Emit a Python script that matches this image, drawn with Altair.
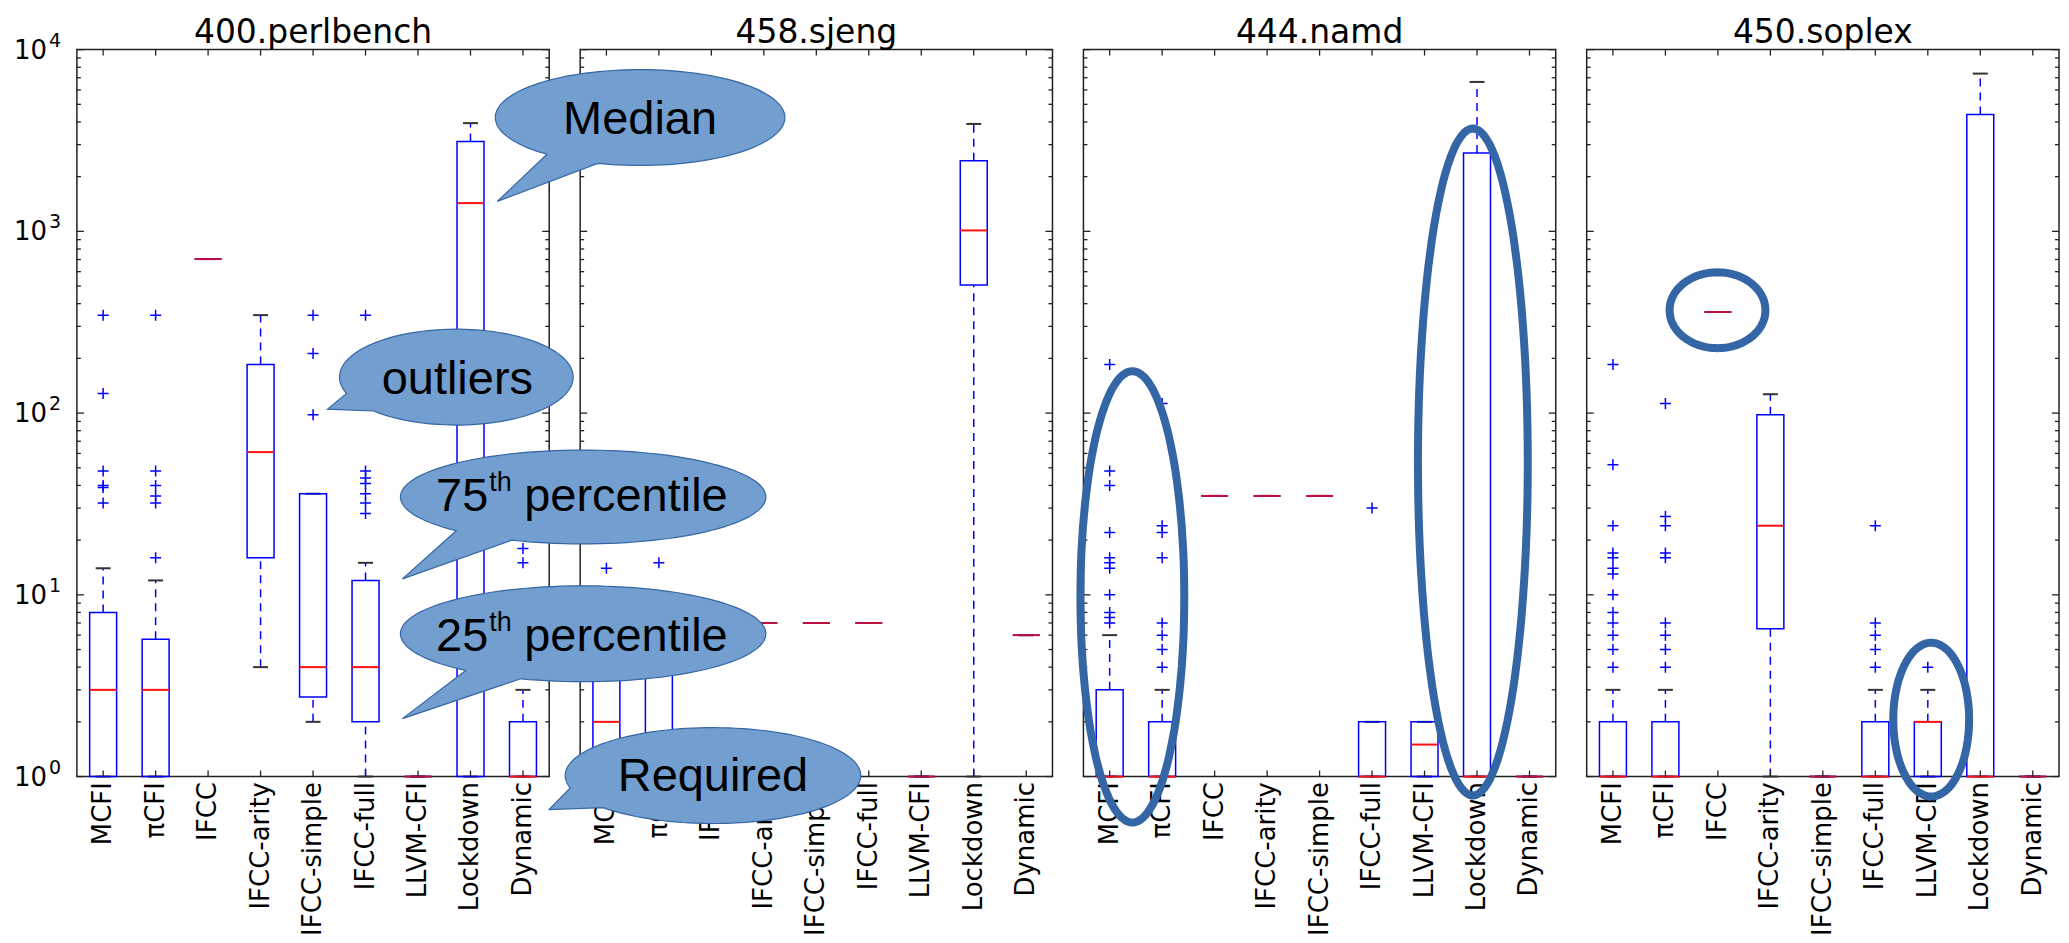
import math
import altair as alt
import pandas as pd

# ---------------- data ----------------
CATS = ["MCFI", "πCFI", "IFCC", "IFCC-arity", "IFCC-simple", "IFCC-full",
        "LLVM-CFI", "Lockdown", "Dynamic"]
BENCHES = ["400.perlbench", "458.sjeng", "444.namd", "450.soplex"]

# lower whisker, 25th pct, median, 75th pct, upper whisker (aligned with CATS)
perl_lo = [1, 1, 704, 4, 2, 1, 1, 1, 1]
perl_q1 = [1, 1, 704, 16, 2.74, 2, 1, 1, 1]
perl_med = [3, 3, 704, 61, 4, 4, 1, 1430, 1]
perl_q3 = [8, 5.7, 704, 185, 36, 12, 1, 3120, 2]
perl_hi = [14, 12, 704, 346, 36, 15, 1, 3940, 3]
perl_out = {"MCFI": [345, 128, 48, 40, 39, 32],
            "πCFI": [345, 48, 40, 35, 32, 16],
            "IFCC-simple": [345, 213, 98],
            "IFCC-full": [345, 48, 44, 41, 36, 32, 28],
            "Dynamic": [18, 15]}

sjeng_lo = [1, 1, 7, 7, 7, 7, 1, 1, 6]
sjeng_q1 = [1, 1, 7, 7, 7, 7, 1, 507, 6]
sjeng_med = [2, 1, 7, 7, 7, 7, 1, 1012, 6]
sjeng_q3 = [4, 5, 7, 7, 7, 7, 1, 2444, 6]
sjeng_hi = [7, 9, 7, 7, 7, 7, 1, 3900, 6]
sjeng_out = {"MCFI": [14], "πCFI": [15]}

namd_lo = [1, 1, 35, 35, 35, 1, 1, 1, 1]
namd_q1 = [1, 1, 35, 35, 35, 1, 1, 1, 1]
namd_med = [1, 1, 35, 35, 35, 1, 1.5, 1, 1]
namd_q3 = [3, 2, 35, 35, 35, 2, 2, 2700, 1]
namd_hi = [6, 3, 35, 35, 35, 2, 2, 6640, 1]
namd_out = {"MCFI": [185, 48, 40, 22, 16, 15, 14, 10, 8, 7.5, 7],
            "πCFI": [113, 24, 22, 16, 7, 6, 5, 4],
            "IFCC-full": [30]}

soplex_lo = [1, 1, 360, 1, 1, 1, 1, 1, 1]
soplex_q1 = [1, 1, 360, 6.5, 1, 1, 1, 1, 1]
soplex_med = [1, 1, 360, 24, 1, 1, 2, 1, 1]
soplex_q3 = [2, 2, 360, 98, 1, 2, 2, 4400, 1]
soplex_hi = [3, 3, 360, 127, 1, 3, 3, 7380, 1]
soplex_out = {"MCFI": [185, 52, 24, 17, 16, 14, 13, 10, 8, 7, 6, 5, 4],
              "πCFI": [113, 27, 24, 17, 16, 7, 6, 5, 4],
              "IFCC-full": [24, 7, 6, 5, 4],
              "LLVM-CFI": [4]}

Y_MAJOR = [1, 10, 100, 1000, 10000]
Y_EXP = ["0", "1", "2", "3", "4"]
Y_MINOR = [m * 10 ** k for k in range(4) for m in range(2, 10)]

STATS = {
    "400.perlbench": (perl_lo, perl_q1, perl_med, perl_q3, perl_hi, perl_out),
    "458.sjeng": (sjeng_lo, sjeng_q1, sjeng_med, sjeng_q3, sjeng_hi, sjeng_out),
    "444.namd": (namd_lo, namd_q1, namd_med, namd_q3, namd_hi, namd_out),
    "450.soplex": (soplex_lo, soplex_q1, soplex_med, soplex_q3, soplex_hi, soplex_out),
}

# ---------------- style ----------------
W, H = 473, 728
BLUE = "#0000ff"
CRIMSON = "#c0103c"
FRAME = "#222222"
BUB_FILL = "#729fcf"
BUB_EDGE = "#3465a4"
FONT = "DejaVu Sans"
BFONT = "Liberation Sans"

ySc = alt.Scale(type="log", domain=[1, 10000], nice=False)
xSc = alt.Scale(domain=CATS, paddingInner=0, paddingOuter=0)
XAX = alt.Axis(labelAngle=270, labelFontSize=26, labelFont=FONT, labelColor="black",
               labelPadding=5, ticks=False, domain=False, labelOverlap=False,
               labelLimit=400, labelBound=False, title=None)


def X():
    return alt.X("cat:N", scale=xSc, sort=CATS, axis=XAX)


def Y(field):
    return alt.Y(field, scale=ySc, axis=None)


def _pt(rx, ry, a):
    r = math.radians(a)
    return f"{rx * math.cos(r):.1f} {ry * math.sin(r):.1f}"


def ellipse_path(rx, ry, n=120):
    pts = [_pt(rx, ry, 360.0 * i / n) for i in range(n)]
    return "M " + " L ".join(pts) + " Z"


def bubble_path(rx, ry, tip, a1, a2, n=120):
    span = (a2 + 360.0) - a1
    pts = [_pt(rx, ry, a1 + span * i / n) for i in range(n + 1)]
    return f"M {tip[0]:.1f} {tip[1]:.1f} L " + " L ".join(pts) + " Z"


ONE = pd.DataFrame({"a": [0]})


def shape_layer(cx, cy, path, **kw):
    return alt.Chart(ONE).mark_point(shape=path, size=4, opacity=1, **kw).encode(
        x=alt.value(cx), y=alt.value(cy))


def text_layer(cx, cy, txt, size, align="center", font=BFONT):
    return alt.Chart(ONE).mark_text(text=txt, font=font, fontSize=size, color="black",
                                    align=align, baseline="alphabetic").encode(
        x=alt.value(cx), y=alt.value(cy))


def ring(cx, cy, rx, ry):
    return shape_layer(cx, cy, ellipse_path(rx, ry), filled=False,
                       stroke=BUB_EDGE, strokeWidth=8, strokeJoin="round")


def bubble(cx, cy, rx, ry, tip, a1, a2):
    return shape_layer(cx, cy, bubble_path(rx, ry, (tip[0] - cx, tip[1] - cy), a1, a2),
                       filled=True, fill=BUB_FILL, stroke=BUB_EDGE, strokeWidth=1.2)


# annotations, in panel-local pixel coordinates
def bubbles_for_sjeng():
    return [
        bubble(60, 68, 145, 48, (-83, 152), 130, 107),
        text_layer(60, 85, "Median", 47),
        bubble(-124, 328, 117, 48, (-253, 360), 160, 135),
        text_layer(-123, 345, "outliers", 47),
        bubble(3, 448, 183, 47, (-178, 530), 134, 113),
        text_layer(-92, 462, "75", 47, "right"),
        text_layer(-91, 442, "th", 27, "left"),
        text_layer(-56, 462, "percentile", 47, "left"),
        bubble(3, 585, 183, 48, (-178, 670), 130, 110),
        text_layer(-92, 602, "25", 47, "right"),
        text_layer(-91, 582, "th", 27, "left"),
        text_layer(-56, 602, "percentile", 47, "left"),
        bubble(133, 727, 148, 48, (-31, 761), 165, 138),
        text_layer(133, 742, "Required", 47),
    ]


ANNOT = {
    "400.perlbench": lambda: [],
    "458.sjeng": bubbles_for_sjeng,
    "444.namd": lambda: [ring(49, 548, 52, 226), ring(390, 413, 55, 334)],
    "450.soplex": lambda: [ring(131, 261, 48, 38), ring(345, 671, 38, 77)],
}


def panel(bench, first):
    lo, q1, med, q3, hi, outd = STATS[bench]
    st = pd.DataFrame({"cat": CATS, "lo": lo, "q1": q1, "med": med, "q3": q3, "hi": hi})
    orows = [(c, v) for c, vals in outd.items() for v in vals]
    od = pd.DataFrame(orows, columns=["cat", "v"])
    base = alt.Chart(st)

    wh = base.mark_rule(color=BLUE, strokeWidth=1.5, strokeDash=[8, 6]).encode(
        x=X(), y=Y("q3:Q"), y2="hi:Q")
    wl = base.mark_rule(color=BLUE, strokeWidth=1.5, strokeDash=[8, 6]).encode(
        x=X(), y=Y("lo:Q"), y2="q1:Q")
    ch = base.mark_tick(color="#333333", size=15, thickness=2, orient="horizontal",
                        opacity=1).encode(x=X(), y=Y("hi:Q"))
    cl = base.mark_tick(color="#333333", size=15, thickness=2, orient="horizontal",
                        opacity=1).encode(x=X(), y=Y("lo:Q"))
    box = base.mark_bar(size=27, fill="white", fillOpacity=0, stroke=BLUE,
                        strokeWidth=1.5).encode(x=X(), y=Y("q1:Q"), y2="q3:Q")
    md = base.mark_tick(size=27, thickness=2, orient="horizontal", opacity=1).encode(
        x=X(), y=Y("med:Q"),
        color=alt.condition("datum.q1 == datum.q3", alt.value(CRIMSON), alt.value("#ff1010")))
    fl = alt.Chart(od).mark_point(shape="M -1 0 L 1 0 M 0 -1 L 0 1", size=121,
                                  filled=False, stroke=BLUE, strokeWidth=1.5,
                                  opacity=1).encode(x=X(), y=Y("v:Q"))

    maj = alt.Chart(pd.DataFrame({"v": Y_MAJOR, "e": Y_EXP}))
    mnr = alt.Chart(pd.DataFrame({"v": Y_MINOR}))
    cats = alt.Chart(pd.DataFrame({"cat": CATS}))
    tk = dict(color=FRAME, strokeWidth=1.3)
    ticks = [
        maj.mark_rule(**tk).encode(y=Y("v:Q"), x=alt.value(0), x2=alt.value(7)),
        maj.mark_rule(**tk).encode(y=Y("v:Q"), x=alt.value(W), x2=alt.value(W - 7)),
        mnr.mark_rule(**tk).encode(y=Y("v:Q"), x=alt.value(0), x2=alt.value(4)),
        mnr.mark_rule(**tk).encode(y=Y("v:Q"), x=alt.value(W), x2=alt.value(W - 4)),
        cats.mark_rule(**tk).encode(x=X(), y=alt.value(0), y2=alt.value(6)),
        cats.mark_rule(**tk).encode(x=X(), y=alt.value(H), y2=alt.value(H - 6)),
    ]
    title = text_layer(W / 2, -7, bench, 33, "center", FONT)
    layers = [wh, wl, ch, cl, box, md, fl] + ticks + [title]
    if first:
        layers += [
            maj.mark_text(text="10", font=FONT, fontSize=26, color="black", align="right",
                          baseline="alphabetic", dy=9).encode(x=alt.value(-30), y=Y("v:Q")),
            maj.mark_text(font=FONT, fontSize=19, color="black", align="left",
                          baseline="alphabetic", dy=-3).encode(
                x=alt.value(-28), y=Y("v:Q"), text="e:N"),
        ]
    layers += ANNOT[bench]()
    return alt.layer(*layers).properties(width=W, height=H)


chart = alt.hconcat(*[panel(b, i == 0) for i, b in enumerate(BENCHES)],
                    spacing=31, bounds="flush").properties(
    padding={"left": 5, "top": 7, "right": 0, "bottom": 0},
    background="white",
).configure_view(stroke=FRAME, strokeWidth=1.5)

chart.save("out.html", embed_options={"renderer": "svg", "actions": False})
